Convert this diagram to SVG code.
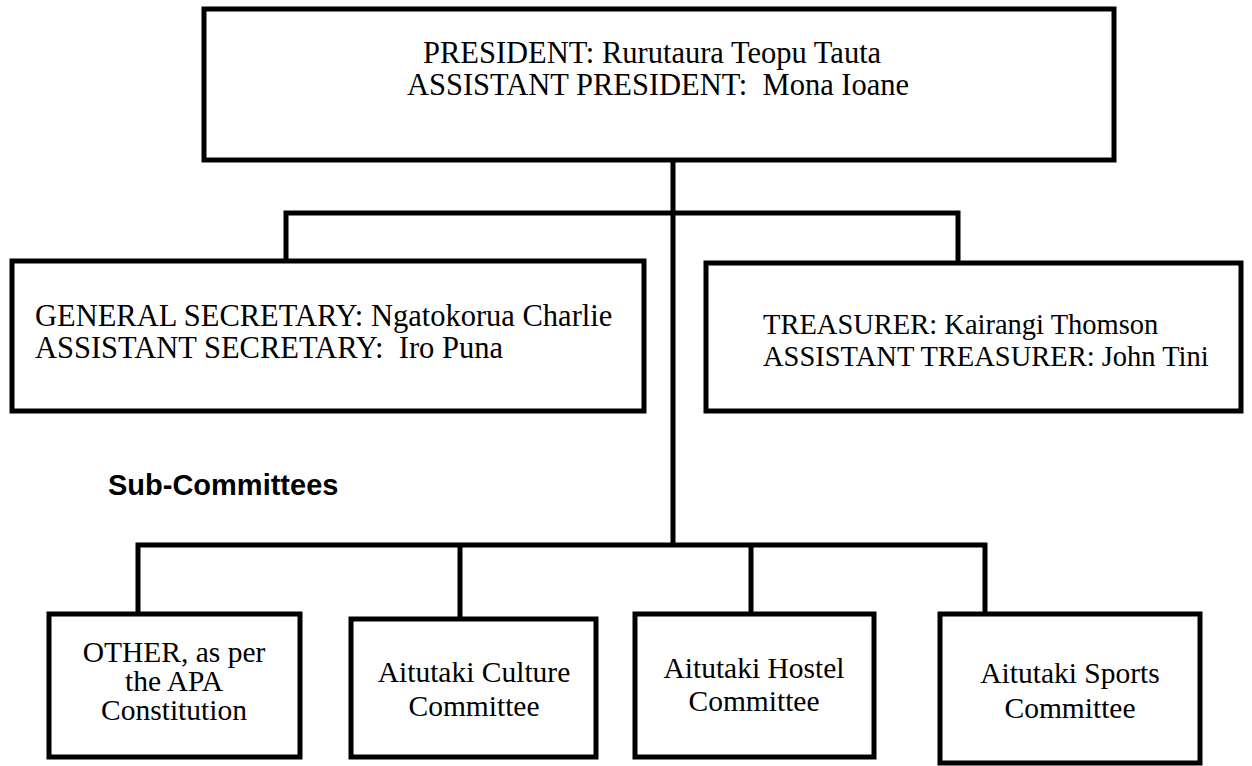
<svg xmlns="http://www.w3.org/2000/svg" width="1252" height="766" viewBox="0 0 1252 766">
<style>
.box{fill:#fff;stroke:#000;stroke-width:5}
.ln{fill:none;stroke:#000;stroke-width:5;stroke-linejoin:miter}
.t{font-family:"Liberation Serif","Times New Roman",serif;font-size:30px;fill:#000;white-space:pre}
.tc{text-anchor:middle}
.h{font-family:"Liberation Sans",Arial,sans-serif;font-size:29px;font-weight:bold;fill:#000}
</style>
<rect width="1252" height="766" fill="#fff"/>
<g id="connectors">
<path class="ln" d="M673,160 V545"/>
<path class="ln" d="M286,261 V213 H958 V263"/>
<path class="ln" d="M138,614 V545 H985 V614"/>
<path class="ln" d="M460,545 V619"/>
<path class="ln" d="M751,545 V614"/>
</g>
<g id="president">
<rect class="box" x="204" y="9" width="910" height="151"/>
<text class="t" x="423" y="63" style="font-size:30.5px">PRESIDENT: Rurutaura Teopu Tauta</text>
<text class="t" x="407" y="95" style="font-size:30.5px">ASSISTANT PRESIDENT:  Mona Ioane</text>
</g>
<g id="secretary">
<rect class="box" x="12" y="261" width="632" height="150"/>
<text class="t" x="35" y="326" style="font-size:30.5px">GENERAL SECRETARY: Ngatokorua Charlie</text>
<text class="t" x="35" y="358" style="font-size:30.5px">ASSISTANT SECRETARY:  Iro Puna</text>
</g>
<g id="treasurer">
<rect class="box" x="706" y="263" width="535" height="148"/>
<text class="t" x="763" y="334" style="font-size:28.5px">TREASURER: Kairangi Thomson</text>
<text class="t" x="763" y="366" style="font-size:28.5px">ASSISTANT TREASURER: John Tini</text>
</g>
<text class="h" x="108" y="495">Sub-Committees</text>
<g id="other">
<rect class="box" x="49" y="614" width="251" height="143"/>
<text class="t tc" x="174" y="662" style="font-size:29.5px">OTHER, as per</text>
<text class="t tc" x="174" y="691" style="font-size:29.5px">the APA</text>
<text class="t tc" x="174" y="720" style="font-size:29.5px">Constitution</text>
</g>
<g id="culture">
<rect class="box" x="351" y="619" width="245" height="138"/>
<text class="t tc" x="474" y="682" style="font-size:29.5px">Aitutaki Culture</text>
<text class="t tc" x="474" y="716" style="font-size:29.5px">Committee</text>
</g>
<g id="hostel">
<rect class="box" x="635" y="614" width="239" height="143"/>
<text class="t tc" x="754" y="678" style="font-size:29.5px">Aitutaki Hostel</text>
<text class="t tc" x="754" y="711" style="font-size:29.5px">Committee</text>
</g>
<g id="sports">
<rect class="box" x="940" y="614" width="260" height="149"/>
<text class="t tc" x="1070" y="683" style="font-size:29.5px">Aitutaki Sports</text>
<text class="t tc" x="1070" y="718" style="font-size:29.5px">Committee</text>
</g>
</svg>
